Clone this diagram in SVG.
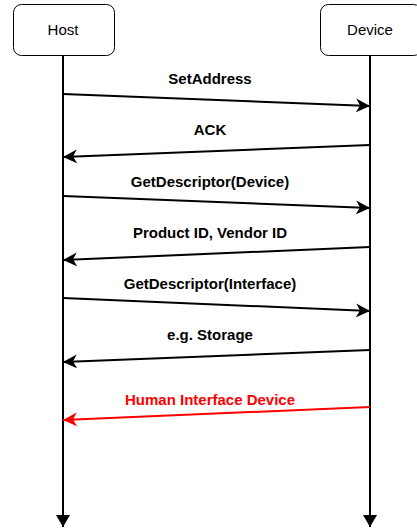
<svg xmlns="http://www.w3.org/2000/svg" width="417" height="529" viewBox="0 0 417 529">
<style>
.box{fill:#fff;stroke:#000;stroke-width:1}
.lt{font-family:"Liberation Sans",Arial,sans-serif;font-size:15px;fill:#000;text-anchor:middle}
.lbl{font-family:"Liberation Sans",Arial,sans-serif;font-size:15px;font-weight:bold;fill:#000;text-anchor:middle}
.ln{stroke:#000;stroke-width:2;fill:none}
.red{stroke:#ff0000}
</style>
<defs>
<marker id="ah" markerUnits="userSpaceOnUse" markerWidth="16" markerHeight="16" refX="14" refY="7" orient="auto" viewBox="0 0 16 14">
<path d="M0,0 L14,7 L0,14 L4,7 Z" fill="#000"/>
</marker>
<marker id="ahr" markerUnits="userSpaceOnUse" markerWidth="16" markerHeight="16" refX="14" refY="7" orient="auto" viewBox="0 0 16 14">
<path d="M0,0 L14,7 L0,14 L4,7 Z" fill="#ff0000"/>
</marker>
<marker id="ahd" markerUnits="userSpaceOnUse" markerWidth="16" markerHeight="16" refX="12" refY="7" orient="auto" viewBox="0 0 16 14">
<path d="M0,0 L12,7 L0,14 Z" fill="#000"/>
</marker>
</defs>
<g id="host">
<rect class="box" x="13.5" y="4.5" width="101" height="51" rx="8"/>
<text class="lt" x="63" y="35">Host</text>
</g>
<g id="device">
<rect class="box" x="320.5" y="4.5" width="101" height="51" rx="8"/>
<text class="lt" x="370" y="35">Device</text>
</g>
<g id="connectors">
<line class="ln" x1="63" y1="56" x2="63" y2="527" marker-end="url(#ahd)"/>
<line class="ln" x1="370" y1="56" x2="370" y2="527" marker-end="url(#ahd)"/>
<line class="ln" x1="63" y1="94" x2="370" y2="106" marker-end="url(#ah)"/>
<line class="ln" x1="370" y1="145" x2="63" y2="157" marker-end="url(#ah)"/>
<line class="ln" x1="63" y1="196" x2="370" y2="208" marker-end="url(#ah)"/>
<line class="ln" x1="370" y1="247" x2="63" y2="260" marker-end="url(#ah)"/>
<line class="ln" x1="63" y1="298" x2="370" y2="311" marker-end="url(#ah)"/>
<line class="ln" x1="370" y1="350" x2="63" y2="362" marker-end="url(#ah)"/>
<line class="ln red" x1="370" y1="407" x2="63" y2="420" marker-end="url(#ahr)"/>
</g>
<g id="labels">
<text class="lbl" x="210" y="84">SetAddress</text>
<text class="lbl" x="210" y="135">ACK</text>
<text class="lbl" x="210" y="187">GetDescriptor(Device)</text>
<text class="lbl" x="210" y="238">Product ID, Vendor ID</text>
<text class="lbl" x="210" y="289">GetDescriptor(Interface)</text>
<text class="lbl" x="210" y="340">e.g. Storage</text>
<text class="lbl" x="210" y="405" style="fill:#ff0000">Human Interface Device</text>
</g>
</svg>
